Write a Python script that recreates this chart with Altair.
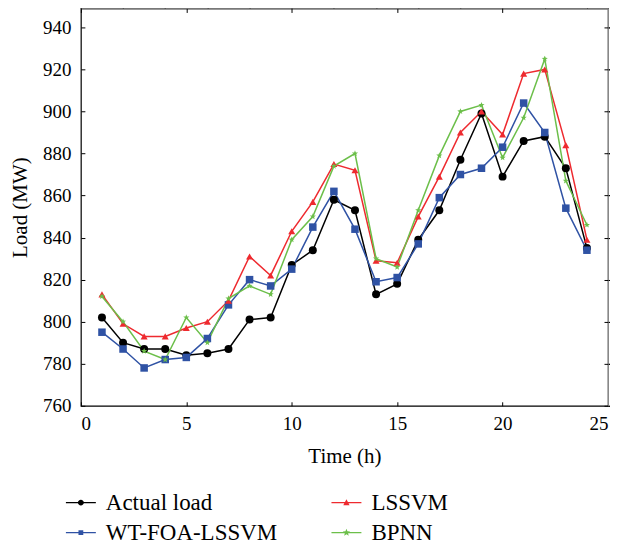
import math
import altair as alt
import pandas as pd

hours = list(range(1, 25))
actual_load = [802, 790, 787, 787, 784, 785, 787, 801, 802, 827, 834, 858,
               853, 813, 818, 839, 853, 877, 899, 869, 886, 888, 873, 835]
wt_foa_lssvm = [795, 787, 778, 782, 783, 792, 808, 820, 817, 825, 845, 862,
                844, 819, 821, 837, 859, 870, 873, 883, 904, 890, 854, 834]
lssvm = [813, 799, 793, 793, 797, 800, 810, 831, 822, 843, 857, 875,
         872, 829, 828, 850, 869, 890, 900, 889, 918, 920, 884, 839]
bpnn = [812, 800, 786, 782, 802, 790, 811, 817, 813, 839, 850, 874,
        880, 830, 826, 853, 879, 900, 903, 878, 897, 925, 867, 846]

# legend is laid out column by column: this order gives rows
# (Actual load, LSSVM) and (WT-FOA-LSSVM, BPNN)
series_names = ["Actual load", "WT-FOA-LSSVM", "LSSVM", "BPNN"]
series_values = [actual_load, wt_foa_lssvm, lssvm, bpnn]
colors = ["#000000", "#2F52A4", "#EE2A2F", "#6CBF4A"]
y_ticks = list(range(760, 941, 20))
x_ticks = [0, 5, 10, 15, 20, 25]

rows = []
for name, vals in zip(series_names, series_values):
    for h, v in zip(hours, vals):
        rows.append({"Time": h, "Load": v, "Series": name, "Model": name})
df = pd.DataFrame(rows)


def star_path(r_out, r_in):
    pts = []
    for k in range(5):
        a = math.radians(-90 + 72 * k)
        pts.append((r_out * math.cos(a), r_out * math.sin(a)))
        b = math.radians(-54 + 72 * k)
        pts.append((r_in * math.cos(b), r_in * math.sin(b)))
    return "M" + "L".join(f"{x:.3f},{y:.3f}" for x, y in pts) + "Z"


def circle_path(r):
    return f"M{r},0A{r},{r},0,1,1,{-r},0A{r},{r},0,1,1,{r},0Z"


def square_path(r):
    return f"M{-r},{-r}H{r}V{r}H{-r}Z"


def tri_path(r):
    return f"M0,{-r * 1.1}L{r},{r * 0.8}H{-r}Z"


point_shapes = ["circle", "square", "triangle-up", star_path(1, 0.42)]
point_sizes = [64, 42, 70, 110]

# legend glyph: a thin filled bar (the line) plus the marker
leg_line = "M-1,-0.045H1V0.045H-1Z"
leg_paths = [leg_line + circle_path(0.2), leg_line + square_path(0.16),
             leg_line + tri_path(0.21), leg_line + star_path(0.26, 0.11)]

FONT = "Liberation Serif"


def color_scale():
    return alt.Scale(domain=series_names, range=colors)


x_enc = alt.X("Time:Q", scale=alt.Scale(domain=[0, 25], nice=False),
              axis=alt.Axis(values=x_ticks, title="Time (h)", offset=-4, tickSize=4,
                            domain=False, labelPadding=9, titlePadding=12,
                            grid=False))
y_enc = alt.Y("Load:Q", scale=alt.Scale(domain=[760, 949], nice=False, zero=False),
              axis=alt.Axis(values=y_ticks, title="Load (MW)", offset=-4, tickSize=4,
                            domain=False, labelPadding=10, titlePadding=12,
                            grid=False))

lines = alt.Chart(df).mark_line(strokeWidth=1.5).encode(
    x=x_enc, y=y_enc,
    color=alt.Color("Series:N", scale=color_scale(), legend=None),
    detail="Series:N",
)

points = alt.Chart(df).mark_point(filled=True, opacity=1).encode(
    x="Time:Q", y="Load:Q",
    color=alt.Color("Model:N", scale=color_scale(), legend=None),
    shape=alt.Shape("Model:N", scale=alt.Scale(domain=series_names, range=point_shapes),
                    legend=None),
    size=alt.Size("Model:N", scale=alt.Scale(domain=series_names, range=point_sizes),
                  legend=None),
)

legend = alt.Legend(
    title=None, orient="none", legendX=-15, legendY=480,
    columns=2, columnPadding=54, rowPadding=3,
    symbolSize=900, symbolOpacity=1, symbolStrokeWidth=0,
    labelFont=FONT, labelFontSize=23, labelColor="#000",
    labelOffset=10, labelLimit=400,
)

legend_layer = alt.Chart(df).transform_filter("false").mark_point(
    filled=True, opacity=1, size=900
).encode(
    x="Time:Q", y="Load:Q",
    color=alt.Color("Series:N", scale=color_scale(), legend=legend),
    shape=alt.Shape("Series:N", scale=alt.Scale(domain=series_names, range=leg_paths),
                    legend=legend),
)

mirror = alt.Chart(df).mark_point(opacity=0).encode(
    x=alt.X("Time:Q", axis=alt.Axis(orient="top", values=x_ticks, labels=False, title=None,
                                    offset=-4, tickSize=4, domain=False, grid=False)),
    y=alt.Y("Load:Q", axis=alt.Axis(orient="right", values=y_ticks, labels=False, title=None,
                                    offset=-4, tickSize=4, domain=False, grid=False)),
)

chart = alt.layer(lines, points, legend_layer, mirror).resolve_axis(
    x="independent", y="independent"
).resolve_scale(shape="independent", size="independent", color="independent").properties(
    width=528, height=398,
    autosize=alt.AutoSizeParams(type="none"),
    padding={"left": 73, "top": 0, "right": 2, "bottom": 138},
).configure_view(stroke="#000", strokeWidth=1.2).configure_axis(
    labelFont=FONT, labelFontSize=19, labelColor="#000",
    titleFont=FONT, titleFontSize=21, titleFontWeight="normal", titleColor="#000",
    tickColor="#000", tickWidth=1,
)

chart.save("out.html", embed_options={"renderer": "svg", "actions": False})
